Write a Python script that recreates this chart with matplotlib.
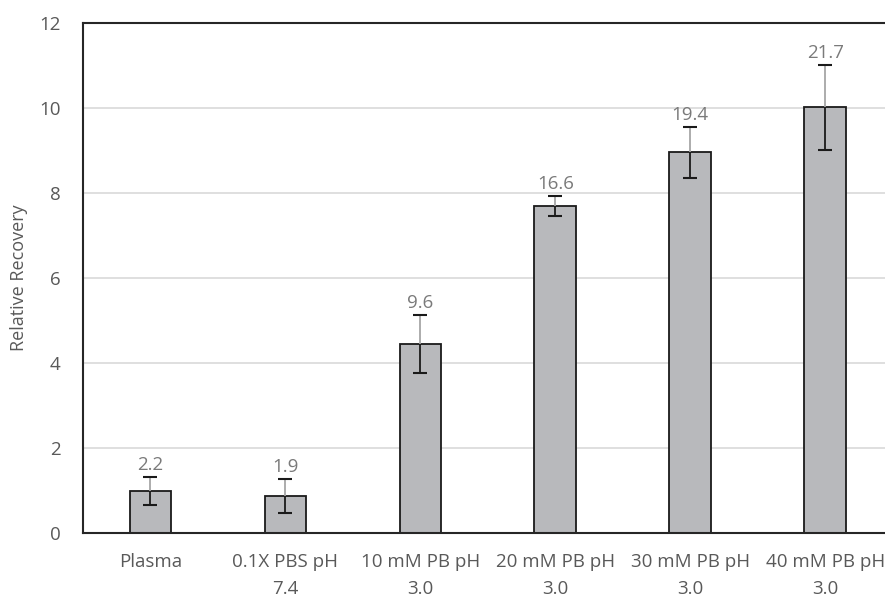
import matplotlib
matplotlib.use("Agg")
import matplotlib.pyplot as plt
import numpy as np

categories = ["Plasma", "0.1X PBS pH\n7.4", "10 mM PB pH\n3.0", "20 mM PB pH\n3.0",
              "30 mM PB pH\n3.0", "40 mM PB pH\n3.0"]
recovery = np.array([1.0, 0.87, 4.45, 7.69, 8.96, 10.02])
errors = np.array([0.33, 0.40, 0.69, 0.24, 0.60, 1.00])
labels = ["2.2", "1.9", "9.6", "16.6", "19.4", "21.7"]

plt.rcParams['font.family'] = ['Open Sans', 'DejaVu Sans']

fig = plt.figure(figsize=(8.85, 5.99), dpi=100)
ax = fig.add_axes([0.0938, 0.110, 0.915, 0.8516])

x = np.arange(len(categories))
ax.bar(x, recovery, width=0.31, color="#b8b9bc", edgecolor="#1a1a1a", linewidth=1.3, zorder=2)

# error bars: stem above bar is light, inside bar dark
ax.vlines(x, recovery, recovery + errors, color="#a6a6a6", linewidth=1.3, zorder=3)
ax.vlines(x, recovery - errors, recovery, color="#1a1a1a", linewidth=1.3, zorder=3)
ax.plot(x, recovery + errors, linestyle="none", marker="_", markersize=10,
        markeredgewidth=1.5, color="#1a1a1a", zorder=4)
ax.plot(x, recovery - errors, linestyle="none", marker="_", markersize=10,
        markeredgewidth=1.5, color="#1a1a1a", zorder=4)

for xi, top, lab in zip(x, recovery + errors, labels):
    ax.annotate(lab, (xi, top), xytext=(0, 2), textcoords="offset points",
                ha="center", va="bottom", fontsize=13.5, color="#7a7a7a")

ax.set_xlim(-0.5, len(categories) - 0.5)
ax.set_ylim(0, 12)
ax.set_yticks(np.arange(0, 13, 2))
ax.set_xticks(x)
ax.set_xticklabels(categories, linespacing=1.7)
ax.tick_params(axis="both", length=0, labelsize=13.5, labelcolor="#595959")
ax.tick_params(axis="y", pad=16)
ax.tick_params(axis="x", pad=14)

ax.yaxis.grid(True, color="#d9d9d9", linewidth=1.2, zorder=0)
ax.set_axisbelow(True)
for s in ax.spines.values():
    s.set_color("#262626")
    s.set_linewidth(1.5)

ax.set_ylabel("Relative Recovery", fontsize=13, color="#595959")
ax.yaxis.set_label_coords(-0.068, 0.5)

fig.savefig("out.png", dpi=100)
